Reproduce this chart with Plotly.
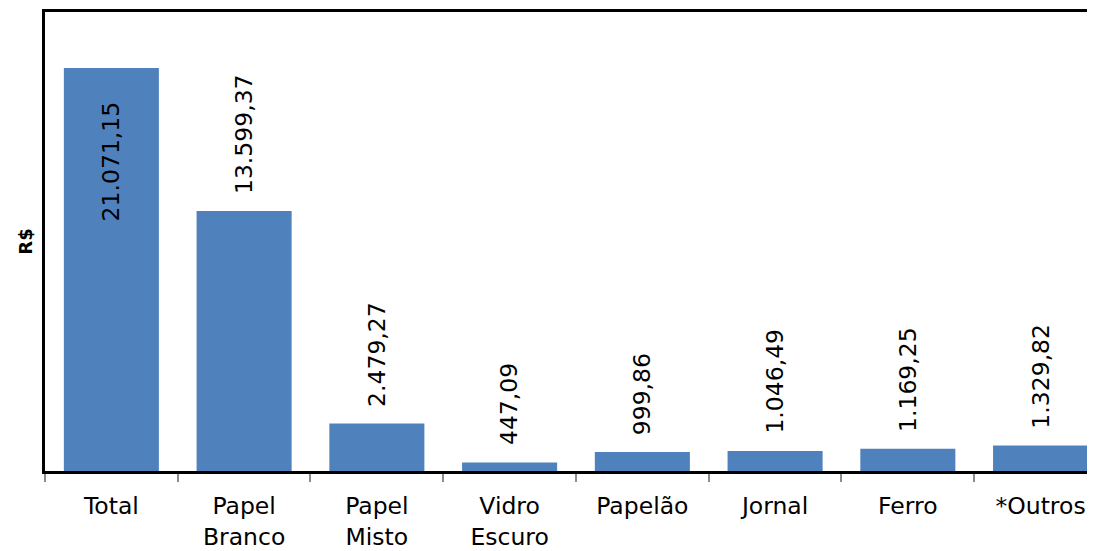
import plotly.graph_objects as go

categories = ["Total", "Papel<br>Branco", "Papel<br>Misto", "Vidro<br>Escuro",
              "Papelão", "Jornal", "Ferro", "*Outros"]
values = [21071.15, 13599.37, 2479.27, 447.09, 999.86, 1046.49, 1169.25, 1329.82]
label_inside = [True, False, False, False, False, False, False, False]


def fmt_br(v):
    s = f"{v:,.2f}"
    return s.replace(",", "X").replace(".", ",").replace("X", ".")


FONT = "Verdana, DejaVu Sans, sans-serif"
BAR_COLOR = "#4F81BD"

fig = go.Figure()
fig.add_trace(go.Bar(
    x=categories,
    y=values,
    marker=dict(color=BAR_COLOR, line=dict(width=0)),
    hoverinfo="skip",
))

for c, v, inside in zip(categories, values, label_inside):
    fig.add_annotation(
        x=c, y=v, xref="x", yref="y",
        text=fmt_br(v), textangle=-90, showarrow=False,
        font=dict(family=FONT, size=23.5, color="black"),
        yanchor="top" if inside else "bottom",
        yshift=-31 if inside else 15,
    )

fig.update_layout(
    width=1087, height=543,
    margin=dict(l=37, r=0, t=4, b=80),
    paper_bgcolor="white", plot_bgcolor="white",
    bargap=0.284,
    showlegend=False,
    font=dict(family=FONT, size=23.5, color="black"),
)
fig.update_xaxes(
    range=[-0.5, 7.41],
    showline=True, linecolor="black", linewidth=3, mirror=True,
    ticks="outside", tickson="boundaries", ticklen=8, tickwidth=2, tickcolor="#8c8c8c",
    ticklabelstandoff=12,
    showgrid=False, zeroline=False,
    tickfont=dict(family=FONT, size=23.5, color="black"),
)
fig.update_yaxes(
    range=[0, 24000],
    showline=True, linecolor="black", linewidth=3,
    showticklabels=False, ticks="", showgrid=False, zeroline=False,
    title=dict(text="<b>R$</b>", font=dict(family=FONT, size=18, color="black"), standoff=5),
)

fig.write_html("out.html")
